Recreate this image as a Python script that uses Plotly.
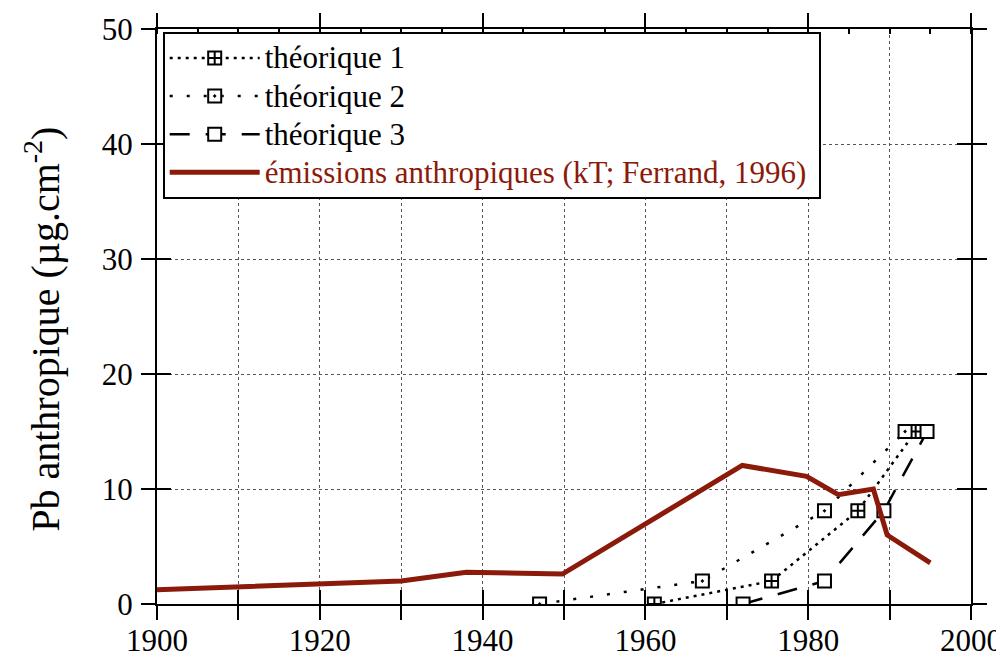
import plotly.graph_objects as go

# ---- data ----
emis_years = [1900, 1930, 1938, 1949.8, 1971.9, 1979.8, 1983.7, 1988.0, 1989.7, 1995.0]
emis_vals = [1.24, 2.0, 2.77, 2.6, 12.05, 11.1, 9.5, 10.0, 6.0, 3.57]

th1_years = [1961.1, 1975.5, 1986.1, 1993.2]
th1_vals = [0, 2.0, 8.1, 15.0]

th2_years = [1947.0, 1967.0, 1982.0, 1991.9]
th2_vals = [0, 2.0, 8.1, 15.0]

th3_years = [1972.0, 1982.0, 1989.3, 1994.6]
th3_vals = [0, 2.0, 8.1, 15.0]

x_ticks = list(range(1900, 2001, 10))
x_ticktext = [str(v) if v % 20 == 0 else "" for v in x_ticks]
y_ticks = list(range(0, 51, 10))

FONT = "Liberation Serif"
RED = "#8b1a0b"


def big(txt, color="black"):
    return f"<span style='font-size:31px;color:{color}'>{txt}</span>"


fig = go.Figure()

fig.add_trace(go.Scatter(
    x=th1_years, y=th1_vals, mode="lines+markers", name=big("théorique 1"),
    line=dict(color="black", width=2.5, dash="3px,5px"),
    marker=dict(symbol="square-cross", size=13, color="white",
                line=dict(color="black", width=2)),
))
fig.add_trace(go.Scatter(
    x=th2_years, y=th2_vals, mode="lines+markers", name=big("théorique 2"),
    line=dict(color="black", width=2.5, dash="3px,14px"),
    marker=dict(symbol="square-dot", size=13, color="white",
                line=dict(color="black", width=2)),
))
fig.add_trace(go.Scatter(
    x=th3_years, y=th3_vals, mode="lines+markers", name=big("théorique 3"),
    line=dict(color="black", width=2.5, dash="20px,16px"),
    marker=dict(symbol="square", size=13, color="white",
                line=dict(color="black", width=2)),
))
fig.add_trace(go.Scatter(
    x=emis_years, y=emis_vals, mode="lines",
    name=big("émissions anthropiques (kT; Ferrand, 1996)", RED) + "&nbsp;",
    line=dict(color=RED, width=5),
))

# empty helper traces so that the overlay axes (extra tick sets) get drawn
for xa, ya in [("x2", "y"), ("x3", "y"), ("x", "y2"), ("x", "y3"), ("x", "y4")]:
    fig.add_trace(go.Scatter(x=[None], y=[None], xaxis=xa, yaxis=ya, mode="lines",
                             showlegend=False, hoverinfo="skip"))

grid = dict(showgrid=True, gridcolor="#555555", gridwidth=1, griddash="dot")
tickfont = dict(family=FONT, size=31, color="black")
tk = dict(tickwidth=2, tickcolor="black", automargin=False, zeroline=False)

# the page body adds an 8px offset, so the figure is 8px smaller on each side
fig.update_layout(
    width=996, height=649,
    margin=dict(l=149, r=33, t=21, b=53),
    paper_bgcolor="white", plot_bgcolor="white",
    font=dict(family=FONT, size=31, color="black"),
    showlegend=True,
    legend=dict(x=0.007, y=0.995, xanchor="left", yanchor="top",
                bgcolor="white", bordercolor="black", borderwidth=2,
                font=dict(family=FONT, size=27, color="black"),
                itemwidth=90, tracegroupgap=0),
    xaxis=dict(range=[1900, 2000], tickmode="array", tickvals=x_ticks, ticktext=x_ticktext,
               ticks="outside", ticklen=14,
               showline=True, linewidth=2, linecolor="black",
               tickfont=tickfont, ticklabelstandoff=-6, **grid, **tk),
    xaxis2=dict(range=[1900, 2000], overlaying="x", anchor="y", side="bottom",
                tickmode="linear", tick0=1900, dtick=10, ticks="inside", ticklen=14,
                showticklabels=False, showline=False, showgrid=False, **tk),
    xaxis3=dict(range=[1900, 2000], overlaying="x", anchor="y", side="top",
                tickmode="linear", tick0=1900, dtick=20, ticks="outside", ticklen=14,
                showticklabels=False,
                minor=dict(tick0=1900, dtick=5, ticks="inside", ticklen=5,
                           tickwidth=2, tickcolor="black", showgrid=False),
                showline=True, linewidth=2, linecolor="black", showgrid=False, **tk),
    yaxis=dict(range=[0, 50], tickmode="array", tickvals=y_ticks,
               ticks="outside", ticklen=14,
               showline=True, linewidth=2, linecolor="black",
               tickfont=tickfont, ticklabelstandoff=2, **grid, **tk),
    yaxis2=dict(range=[0, 50], overlaying="y", anchor="x", side="left",
                tickmode="array", tickvals=y_ticks, ticks="inside", ticklen=14,
                showticklabels=False, showline=False, showgrid=False, **tk),
    yaxis3=dict(range=[0, 50], overlaying="y", anchor="x", side="right",
                tickmode="array", tickvals=y_ticks, ticks="outside", ticklen=14,
                showticklabels=False, showline=True, linewidth=2, linecolor="black",
                showgrid=False, **tk),
    yaxis4=dict(range=[0, 50], overlaying="y", anchor="x", side="right",
                tickmode="array", tickvals=y_ticks, ticks="inside", ticklen=14,
                showticklabels=False, showline=False, showgrid=False, **tk),
    annotations=[dict(text="Pb anthropique (µg.cm<sup>-2</sup>)", textangle=-90,
                      xref="paper", yref="paper", x=-0.140, y=0.477,
                      xanchor="center", yanchor="middle", showarrow=False,
                      font=dict(family=FONT, size=40, color="black"))],
)

fig.write_html("out.html")
